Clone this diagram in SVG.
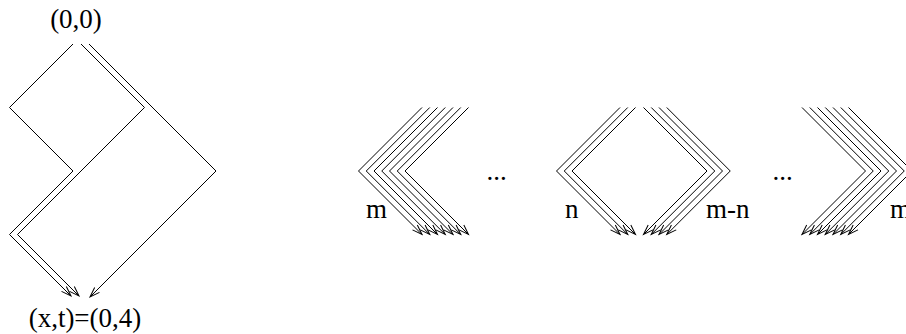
<svg xmlns="http://www.w3.org/2000/svg" width="906" height="334" viewBox="0 0 906 334">
<style>
.ln{fill:none;stroke:#000;stroke-width:1;marker-end:url(#ah)}
.pl{fill:none;stroke:#000;stroke-width:1}
.t{font-family:"Liberation Serif","Times New Roman",serif;font-size:27px;fill:#000}
</style>
<defs>
<marker id="ah" markerWidth="12" markerHeight="8" refX="10" refY="4" orient="auto" markerUnits="userSpaceOnUse" overflow="visible"><path d="M0,0.6 L10,4 L0,7.4" fill="none" stroke="#000" stroke-width="1"/></marker>
</defs>
<rect width="906" height="334" fill="#fff"/>
<g id="label-origin"><text class="t" x="76" y="27.5" text-anchor="middle">(0,0)</text></g>
<g id="label-end"><text class="t" x="85" y="326.5" text-anchor="middle">(x,t)=(0,4)</text></g>
<g id="connectors">
<g id="left-paths">
<path class="ln" d="M73,44 L9.5,107.5 L73,171 L9.5,234.5 L71,296"/>
<path class="ln" d="M81,44 L144.5,107.5 L17.5,234.5 L79,296"/>
<path class="ln" d="M89,44 L216,171 L90,297"/>
</g>
<g id="group-m-left">
<path class="ln" d="M422,107.5 L358.5,171 L422,234.5"/>
<path class="ln" d="M429.75,107.5 L366.25,171 L429.75,234.5"/>
<path class="ln" d="M437.5,107.5 L374,171 L437.5,234.5"/>
<path class="ln" d="M445.25,107.5 L381.75,171 L445.25,234.5"/>
<path class="ln" d="M453,107.5 L389.5,171 L453,234.5"/>
<path class="ln" d="M460.75,107.5 L397.25,171 L460.75,234.5"/>
<path class="ln" d="M468.5,107.5 L405,171 L468.5,234.5"/>
</g>
<g id="group-n">
<path class="ln" d="M620,107.5 L556.5,171 L620,234.5"/>
<path class="ln" d="M627.75,107.5 L564.25,171 L627.75,234.5"/>
<path class="ln" d="M635.5,107.5 L572,171 L635.5,234.5"/>
</g>
<g id="group-m-n">
<path class="ln" d="M643.5,107.5 L707,171 L643.5,234.5"/>
<path class="ln" d="M651.25,107.5 L714.75,171 L651.25,234.5"/>
<path class="ln" d="M659,107.5 L722.5,171 L659,234.5"/>
<path class="ln" d="M666.75,107.5 L730.25,171 L666.75,234.5"/>
</g>
<g id="group-m-right">
<path class="ln" d="M802,107.5 L865.5,171 L802,234.5"/>
<path class="ln" d="M809.75,107.5 L873.25,171 L809.75,234.5"/>
<path class="ln" d="M817.5,107.5 L881,171 L817.5,234.5"/>
<path class="ln" d="M825.25,107.5 L888.75,171 L825.25,234.5"/>
<path class="ln" d="M833,107.5 L896.5,171 L833,234.5"/>
<path class="ln" d="M840.75,107.5 L904.25,171 L840.75,234.5"/>
<path class="ln" d="M848.5,107.5 L912,171 L848.5,234.5"/>
</g>
</g>
<g id="label-m-left"><text class="t" x="366" y="218">m</text></g>
<g id="label-dots-1"><text class="t" x="486.5" y="180">...</text></g>
<g id="label-n"><text class="t" x="565" y="218">n</text></g>
<g id="label-m-n"><text class="t" x="706" y="218">m-n</text></g>
<g id="label-dots-2"><text class="t" x="772.5" y="180">...</text></g>
<g id="label-m-right"><text class="t" x="890" y="218">m</text></g>
</svg>
